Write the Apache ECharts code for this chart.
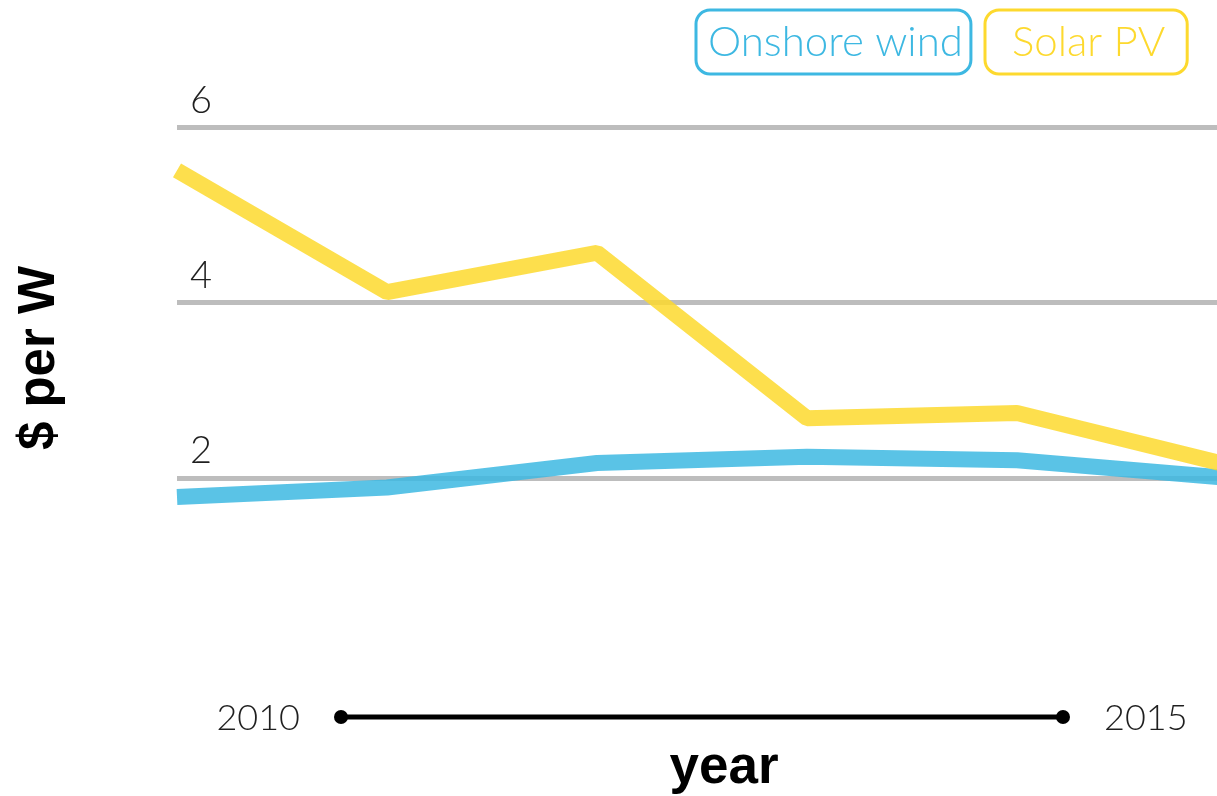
<!DOCTYPE html>
<html>
<head>
<meta charset="utf-8">
<script src="https://cdn.jsdelivr.net/npm/echarts@6/dist/echarts.min.js"></script>
<style>
  html, body { margin: 0; padding: 0; background: #ffffff; }
  #chart { width: 1217px; height: 796px; }
</style>
</head>
<body>
<div id="chart"></div>
<script>
// Installed cost, dollars per watt
const years = [2010, 2011, 2012, 2013, 2014, 2015];
const onshoreWind = [1.78, 1.89, 2.17, 2.24, 2.20, 2.00];
const solarPV = [5.51, 4.12, 4.57, 2.68, 2.74, 2.15];
const yTicks = [2, 4, 6];

const windColor = '#3db8e2';
const solarColor = '#fdd92e';
const labelFont = 'Lato, "Noto Sans", sans-serif';

const pairs = vals => years.map((y, i) => [y, vals[i]]);

const chart = echarts.init(document.getElementById('chart'));

function boxLegend(name, color, left, pad) {
  return {
    data: [{ name: name, icon: 'none' }],
    left: left,
    top: 10,
    orient: 'horizontal',
    itemWidth: 0,
    itemHeight: 0,
    padding: pad,
    borderColor: color,
    borderWidth: 3,
    borderRadius: 14,
    selectedMode: false,
    textStyle: {
      color: color,
      fontFamily: labelFont,
      fontSize: 42,
      fontWeight: 300
    }
  };
}

chart.setOption({
  backgroundColor: '#ffffff',
  animation: false,
  grid: { left: 177, top: 127.5, right: 0, bottom: 143, containLabel: false },
  legend: [
    boxLegend('Onshore wind', windColor, 696, [11, 8, 11, 7]),
    boxLegend('Solar PV', solarColor, 985, [11, 22, 11, 22])
  ],
  xAxis: {
    type: 'value',
    // the 2015 point sits just past the right edge of the plot
    min: 2010,
    max: 2014.952,
    axisLine: { show: false },
    axisTick: { show: false },
    axisLabel: { show: false },
    splitLine: { show: false }
  },
  yAxis: {
    type: 'value',
    min: 0,
    max: 6,
    interval: 2,
    axisLine: { show: false },
    axisTick: { show: false },
    axisLabel: {
      inside: true,
      margin: 13,
      verticalAlign: 'bottom',
      padding: [0, 0, 8, 0],
      color: '#1f1f1f',
      fontFamily: labelFont,
      fontWeight: 300,
      fontSize: 38,
      formatter: v => (yTicks.indexOf(v) >= 0 ? String(v) : '')
    },
    splitLine: {
      show: true,
      lineStyle: { color: ['rgba(0,0,0,0)', '#bdbdbd', '#bdbdbd', '#bdbdbd'], width: 5 }
    }
  },
  series: [
    {
      name: 'Onshore wind',
      type: 'line',
      data: pairs(onshoreWind),
      symbol: 'none',
      clip: true,
      lineStyle: { color: windColor, width: 16, opacity: 0.85 },
      itemStyle: { color: windColor }
    },
    {
      name: 'Solar PV',
      type: 'line',
      data: pairs(solarPV),
      symbol: 'none',
      clip: true,
      lineStyle: { color: solarColor, width: 16, opacity: 0.85 },
      itemStyle: { color: solarColor }
    }
  ],
  graphic: [
    // Axis titles
    {
      type: 'text',
      x: 40, y: 358,
      rotation: Math.PI / 2,
      style: {
        text: '$ per W',
        font: 'bold 51px "Liberation Sans", Arial, sans-serif',
        fill: '#000000',
        align: 'center',
        verticalAlign: 'middle'
      }
    },
    {
      type: 'text',
      x: 724, y: 768,
      style: {
        text: 'year',
        font: 'bold 53px "Liberation Sans", Arial, sans-serif',
        fill: '#000000',
        align: 'center',
        verticalAlign: 'middle'
      }
    },
    // Year range bar
    {
      type: 'text',
      x: 300, y: 718,
      style: {
        text: String(years[0]),
        font: '300 36px ' + labelFont,
        fill: '#1f1f1f',
        align: 'right',
        verticalAlign: 'middle'
      }
    },
    {
      type: 'text',
      x: 1104, y: 718,
      style: {
        text: String(years[years.length - 1]),
        font: '300 36px ' + labelFont,
        fill: '#1f1f1f',
        align: 'left',
        verticalAlign: 'middle'
      }
    },
    {
      type: 'line',
      shape: { x1: 341, y1: 717, x2: 1063, y2: 717 },
      style: { stroke: '#000000', lineWidth: 5 }
    },
    {
      type: 'circle',
      shape: { cx: 341, cy: 717, r: 7 },
      style: { fill: '#000000' }
    },
    {
      type: 'circle',
      shape: { cx: 1063, cy: 717, r: 7 },
      style: { fill: '#000000' }
    }
  ]
});
</script>
</body>
</html>
